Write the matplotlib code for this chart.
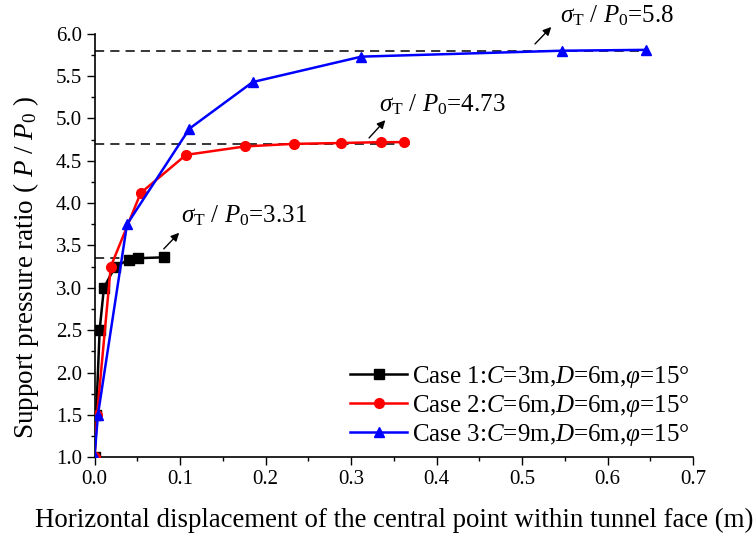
import matplotlib
matplotlib.use("Agg")
import matplotlib.pyplot as plt
from matplotlib.ticker import MultipleLocator

plt.rcParams['font.family'] = ['Liberation Serif', 'DejaVu Serif']
plt.rcParams['mathtext.fontset'] = 'custom'
plt.rcParams['mathtext.rm'] = 'Liberation Serif'
plt.rcParams['mathtext.it'] = 'Liberation Serif:italic'
plt.rcParams['mathtext.bf'] = 'Liberation Serif:bold'

# Data
case1_x = [0.0, 0.002, 0.006, 0.011, 0.024, 0.040, 0.051, 0.081]
case1_y = [1.0, 1.5, 2.5, 3.0, 3.25, 3.33, 3.35, 3.36]
case2_x = [0.0, 0.003, 0.019, 0.054, 0.107, 0.176, 0.233, 0.288, 0.335, 0.362]
case2_y = [1.0, 1.5, 3.25, 4.12, 4.57, 4.67, 4.70, 4.71, 4.72, 4.72]
case3_x = [0.0, 0.004, 0.038, 0.111, 0.185, 0.312, 0.547, 0.645]
case3_y = [1.0, 1.5, 3.75, 4.88, 5.43, 5.73, 5.80, 5.81]

labels = [r'Case 1:$C$=3m,$D$=6m,$\varphi$=15°',
          r'Case 2:$C$=6m,$D$=6m,$\varphi$=15°',
          r'Case 3:$C$=9m,$D$=6m,$\varphi$=15°']

limit_values = [3.35, 4.70, 5.80]
limit_ends = [0.05, 0.37, 0.645]
limit_texts = [r'$\sigma_{\mathrm{T}}$ / $P_0$=3.31',
               r'$\sigma_{\mathrm{T}}$ / $P_0$=4.73',
               r'$\sigma_{\mathrm{T}}$ / $P_0$=5.8']
arrow_tails = [(0.081, 3.46), (0.321, 4.77), (0.515, 5.88)]
arrow_heads = [(0.099, 3.65), (0.340, 4.98), (0.534, 6.08)]
text_pos = [(0.101, 3.77), (0.333, 5.08), (0.544, 6.13)]

fig = plt.figure(figsize=(7.56, 5.36), dpi=100)
ax = fig.add_axes([0.125, 0.147, 0.792, 0.79])

for val, xe in zip(limit_values, limit_ends):
    ax.plot([0, xe], [val, val], color='black', lw=1.1, ls=(0, (6, 4)), zorder=1)

ax.plot(case1_x, case1_y, color='black', lw=1.8, marker='s', ms=6.5, label=labels[0], zorder=3)
ax.plot(case2_x, case2_y, color='red', lw=1.8, marker='o', ms=7, label=labels[1], zorder=3)
ax.plot(case3_x, case3_y, color='blue', lw=1.8, marker='^', ms=7.5, label=labels[2], zorder=4)

for txt, tail, head, tp in zip(limit_texts, arrow_tails, arrow_heads, text_pos):
    ax.annotate('', xy=head, xytext=tail,
                arrowprops=dict(arrowstyle='-|>', color='black', lw=1.0,
                                mutation_scale=12, shrinkA=0, shrinkB=0),
                annotation_clip=False)
    ax.text(tp[0], tp[1], txt, fontsize=18, ha='left', va='baseline', clip_on=False)

ax.set_xlim(0, 0.7)
ax.set_ylim(1.0, 6.0)
ax.xaxis.set_major_locator(MultipleLocator(0.1))
ax.xaxis.set_minor_locator(MultipleLocator(0.05))
ax.yaxis.set_major_locator(MultipleLocator(0.5))
ax.yaxis.set_minor_locator(MultipleLocator(0.25))
ax.xaxis.set_major_formatter(matplotlib.ticker.FormatStrFormatter('%.1f'))
ax.yaxis.set_major_formatter(matplotlib.ticker.FormatStrFormatter('%.1f'))
ax.tick_params(which='major', direction='out', length=6, width=1.0, labelsize=15, pad=3)
ax.tick_params(which='minor', direction='out', length=3, width=1.0)
ax.spines['top'].set_visible(False)
ax.spines['right'].set_visible(False)
for s in ['left', 'bottom']:
    ax.spines[s].set_linewidth(1.2)

ax.set_xlabel('Horizontal displacement of the central point within tunnel face (m)', fontsize=19.4, labelpad=14)
ax.set_ylabel(r'Support pressure ratio ( $P$ / $P_0$ )', fontsize=19.5)
ax.yaxis.set_label_coords(-0.09, 0.447)

leg = ax.legend(loc='upper left', bbox_to_anchor=(350 / 756, 1 - 364 / 536),
                bbox_transform=fig.transFigure, frameon=False, fontsize=18,
                handlelength=2.28, handletextpad=0.2, labelspacing=0.12,
                borderpad=0, borderaxespad=0)

fig.savefig('out.png', dpi=100)
